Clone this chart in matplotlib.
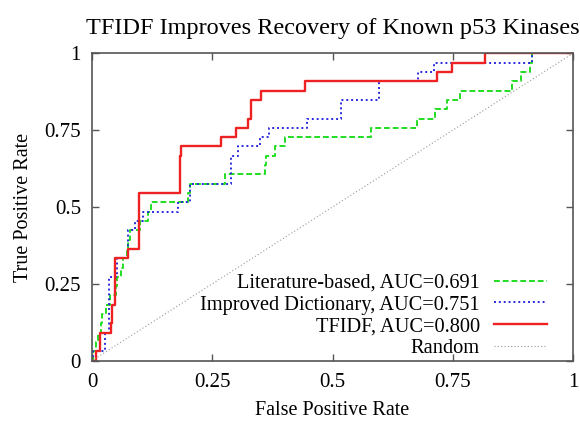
import matplotlib
matplotlib.use('Agg')
import matplotlib.pyplot as plt
import numpy as np

# ROC step points: fpr where each rise happens, true positives after the rise (33 known kinases)
n_pos = 33

lit_fpr = [0, 0.003, 0.008, 0.013, 0.019, 0.021, 0.029, 0.038, 0.050, 0.053,
           0.060, 0.064, 0.072, 0.074, 0.079, 0.100, 0.116, 0.123, 0.200, 0.203,
           0.277, 0.360, 0.362, 0.380, 0.401, 0.580, 0.675, 0.713, 0.737, 0.765,
           0.873, 0.891, 0.911, 0.915, 1.0]
lit_tp = list(range(34)) + [33]

dict_fpr = [0, 0.003, 0.027, 0.035, 0.051, 0.074, 0.089, 0.107, 0.179, 0.203,
            0.289, 0.304, 0.349, 0.369, 0.446, 0.517, 0.597, 0.678, 0.711, 0.914, 1.0]
dict_tp = [0, 1, 3, 9, 11, 14, 15, 16, 17, 19, 22, 23, 24, 25, 26, 28, 30, 31, 32, 33, 33]

tfidf_fpr = [0, 0.009, 0.017, 0.039, 0.041, 0.048, 0.075, 0.098, 0.182, 0.185,
             0.268, 0.300, 0.325, 0.330, 0.351, 0.443, 0.717, 0.748, 0.817, 1.0]
tfidf_tp = [0, 1, 3, 4, 6, 11, 12, 18, 22, 23, 24, 25, 26, 28, 29, 30, 31, 32, 33, 33]

random_fpr = [0, 1]
random_tpr = [0, 1]

labels = ['Literature-based, AUC=0.691', 'Improved Dictionary, AUC=0.751',
          'TFIDF, AUC=0.800', 'Random']
ticks = [0, 0.25, 0.5, 0.75, 1]
tick_labels = ['0', '0.25', '0.5', '0.75', '1']

plt.rcParams['font.family'] = ['Liberation Serif', 'DejaVu Serif']

fig = plt.figure(figsize=(5.8, 4.22), dpi=100)
ax = fig.add_axes([0.1586, 0.1453, 0.8294, 0.7284])

ax.plot(lit_fpr, np.array(lit_tp) / n_pos, drawstyle='steps-post', color='#22dd22',
        lw=1.4, dashes=(3, 1.5), label=labels[0])
ax.plot(dict_fpr, np.array(dict_tp) / n_pos, drawstyle='steps-post', color='#2a2ae0',
        lw=1.4, dashes=(1, 1.5), label=labels[1])
ax.plot(tfidf_fpr, np.array(tfidf_tp) / n_pos, drawstyle='steps-post', color='#ee2222',
        lw=1.7, label=labels[2])
ax.plot(random_fpr, random_tpr, color='#999999', lw=0.8, dashes=(1, 2), label=labels[3])

ax.set_xlim(0, 1)
ax.set_ylim(0, 1)
ax.set_xticks(ticks)
ax.set_xticklabels(tick_labels)
ax.set_yticks(ticks)
ax.set_yticklabels(tick_labels)
ax.tick_params(direction='in', top=True, right=True, length=5, width=1,
               color='#555555', labelsize=15)
ax.tick_params(axis='x', pad=9)
ax.tick_params(axis='y', pad=8)
for s in ax.spines.values():
    s.set_color('#555555')
    s.set_linewidth(1.2)

ax.set_title('TFIDF Improves Recovery of Known p53 Kinases', fontsize=17.5, pad=14)
ax.set_xlabel('False Positive Rate', fontsize=14.5, labelpad=6)
ax.set_ylabel('True Positive Rate', fontsize=14.5, labelpad=8)

ax.legend(loc='lower right', markerfirst=False, frameon=False, fontsize=14.7,
          handlelength=2.6, handletextpad=0.7, labelspacing=0.12,
          borderaxespad=0.0, bbox_to_anchor=(0.963, -0.018))

fig.savefig('out.png', dpi=100)
